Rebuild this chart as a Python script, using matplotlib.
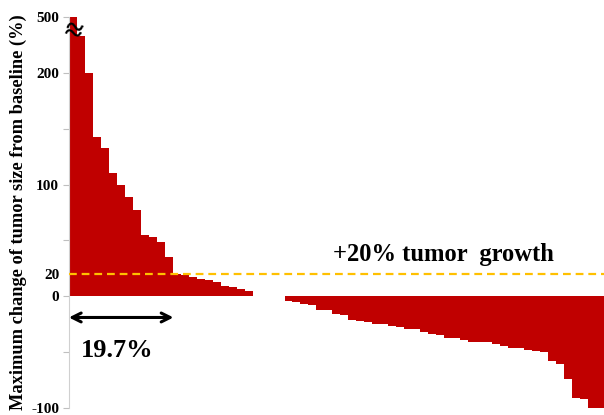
import numpy as np
import matplotlib.pyplot as plt

# maximum change of tumor size per patient (%), sorted as in the waterfall
growth = [500, 400, 200, 143, 133, 110, 99.5, 89, 77, 54.5, 53, 49, 35.5,
          19.5, 18.6, 17.4, 15.6, 14.5, 12.6, 9.6, 8.3, 6.6, 4.5]
stable = [0, 0, 0, 0]
shrink = [-4, -5, -6.5, -7.4, -11.9, -12.5, -16.3, -16.8, -21.4, -22.5,
          -23.2, -24.6, -25, -26.8, -27.2, -29.1, -29.5, -31.8, -34.2, -34.5,
          -37.1, -37.5, -39.3, -40.7, -41, -41.3, -42.5, -44.6, -46.1, -46.5,
          -48.5, -49, -50, -58, -61, -74.4, -90.7, -92.2, -100, -100]
values = np.array(growth + stable + shrink, dtype=float)

tick_vals = [-100, -50, 0, 20, 50, 100, 150, 200, 500]
tick_labels = ['-100', '', '0', '20', '', '100', '', '200', '500']
threshold = 20
pct_above = '19.7%'

BREAK = 200  # axis is compressed above this value


def fwd(y):
    y = np.asarray(y, dtype=float)
    return np.where(y <= BREAK, y, BREAK + (y - BREAK) / 6.0)


def inv(y):
    y = np.asarray(y, dtype=float)
    return np.where(y <= BREAK, y, BREAK + (y - BREAK) * 6.0)


plt.rcParams['font.family'] = ['Liberation Serif', 'DejaVu Serif']
plt.rcParams['font.weight'] = 'bold'

fig = plt.figure(figsize=(6.04, 4.15), dpi=100)
ax = fig.add_axes([0.114, 0.017, 0.886, 0.942])

x = np.arange(len(values))
ax.bar(x, values, width=1.0, color='#C00000', edgecolor='none')

ax.set_yscale('function', functions=(fwd, inv))
ax.set_ylim(-100, 500)
ax.set_xlim(-0.5, len(values) - 0.5)

ax.set_yticks(tick_vals)
ax.set_yticklabels(tick_labels, fontsize=11, fontweight='bold')
ax.get_yaxis().get_major_ticks()[3].tick1line.set_visible(False)
ax.tick_params(axis='y', length=4, color='#BFBFBF', pad=3)
ax.set_xticks([])

for s in ['top', 'right', 'bottom']:
    ax.spines[s].set_visible(False)
ax.spines['left'].set_color('#D0D0D0')

ax.set_ylabel('Maximum change of tumor size from baseline (%)', fontsize=13.2,
              fontweight='bold', labelpad=3)

# +20% growth threshold line
ax.axhline(threshold, color='#FFC000', lw=1.6, dashes=(3.5, 2.2), zorder=3)
ax.text(46.4, 37.5, '+20% tumor  growth', fontsize=17.7, fontweight='bold',
        ha='center', va='center')

# break mark on the top bar
ax.text(0.0, 415, '≈', fontsize=23, fontweight='bold', ha='center',
        va='center', rotation=-15)

# share of patients above +20%
n_above = int(np.sum(values > threshold))
ax.annotate('', xy=(-0.5, -19), xytext=(n_above - 0.5 + 0.1, -19),
            arrowprops=dict(arrowstyle='<->', color='black', lw=2.2,
                            mutation_scale=16, shrinkA=0, shrinkB=0))
ax.text(5.6, -49, pct_above, fontsize=19, fontweight='bold', ha='center',
        va='center')

fig.savefig('out.png', dpi=100)
